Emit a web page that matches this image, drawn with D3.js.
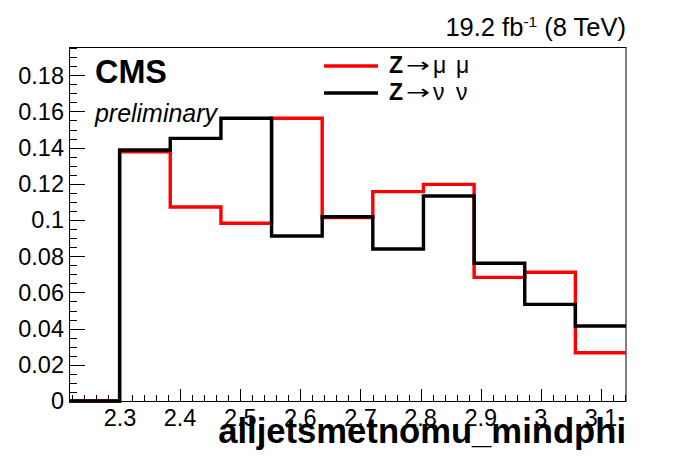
<!DOCTYPE html>
<html>
<head>
<meta charset="utf-8">
<script src="https://cdn.jsdelivr.net/npm/d3@7"></script>
<style>
  html, body { margin: 0; padding: 0; background: #fff; }
  svg { display: block; font-family: "Liberation Sans", Arial, Helvetica, sans-serif; }
</style>
</head>
<body>
<svg id="chart" width="696" height="472"></svg>
<script>
// ---- data ----
const binLowEdges = [2.2152, 2.2994, 2.3836, 2.4679, 2.5521, 2.6363, 2.7205, 2.8047, 2.8890, 2.9732, 3.0574];
const binHighEdge = 3.1416;
const zmumu = [0, 0.1377, 0.1072, 0.0982, 0.1562, 0.1013, 0.1157, 0.1197, 0.0683, 0.0711, 0.0267];
const znunu = [0, 0.1387, 0.1451, 0.1562, 0.0912, 0.1018, 0.0840, 0.1133, 0.0761, 0.0534, 0.0414];
const xTickValues = [2.3, 2.4, 2.5, 2.6, 2.7, 2.8, 2.9, 3.0, 3.1];
const xTickLabels = ["2.3", "2.4", "2.5", "2.6", "2.7", "2.8", "2.9", "3", "3.1"];
const yTickValues = [0, 0.02, 0.04, 0.06, 0.08, 0.10, 0.12, 0.14, 0.16, 0.18];
const yTickLabels = ["0", "0.02", "0.04", "0.06", "0.08", "0.1", "0.12", "0.14", "0.16", "0.18"];
const yMax = 0.1956;
const seriesNames = ["Z", "Z"];
const seriesGreek = ["\u03bc", "\u03bd"];
const seriesColors = ["#ff0000", "#000000"];
const xTitle = "alljetsmetnomu_mindphi";

// ---- layout ----
const L = 69, R = 626, T = 47, B = 401;
const svg = d3.select("#chart");
const x = d3.scaleLinear().domain([binLowEdges[0], binHighEdge]).range([L, R]);
const y = d3.scaleLinear().domain([0, yMax]).range([B, T]);

function fitWidth(sel, size, target) {
  sel.attr("font-size", size);
  const w = sel.node().getComputedTextLength();
  sel.attr("font-size", size * target / w);
}

// frame
svg.append("rect").attr("x", L + 0.5).attr("y", T + 0.5)
  .attr("width", R - L - 0.5).attr("height", B - T)
  .attr("fill", "none").attr("stroke", "#000").attr("stroke-width", 1);

// histograms (step)
function stepPoints(vals) {
  const pts = [];
  vals.forEach((v, i) => {
    const x0 = binLowEdges[i];
    const x1 = i + 1 < binLowEdges.length ? binLowEdges[i + 1] : binHighEdge;
    pts.push([x(x0), y(v)]);
    pts.push([x(x1), y(v)]);
  });
  return pts;
}
const line = d3.line();
[zmumu, znunu].forEach((vals, k) => {
  svg.append("path").attr("d", line(stepPoints(vals)))
    .attr("fill", "none").attr("stroke", seriesColors[k])
    .attr("stroke-width", 3.4).attr("stroke-linejoin", "miter").attr("stroke-linecap", "butt");
});

// y axis ticks
const yMinor = d3.range(0, yMax, 0.005);
yMinor.forEach(v => {
  const major = yTickValues.some(t => Math.abs(t - v) < 1e-6);
  const yy = Math.round(y(v)) + 0.5;
  svg.append("line").attr("x1", L).attr("x2", L + (major ? 16 : 8))
    .attr("y1", yy).attr("y2", yy).attr("stroke", "#000").attr("stroke-width", 1);
});
yTickValues.forEach((v, i) => {
  svg.append("text").attr("x", 64).attr("y", y(v)).attr("dy", "0.36em")
    .attr("text-anchor", "end").attr("font-size", 23.5).text(yTickLabels[i]);
});

// x axis ticks
const xMinor = d3.range(2.22, binHighEdge, 0.02);
xMinor.forEach(v => {
  const major = xTickValues.some(t => Math.abs(t - v) < 1e-6);
  const xx = Math.round(x(v)) + 0.5;
  svg.append("line").attr("x1", xx).attr("x2", xx)
    .attr("y1", B).attr("y2", B - (major ? 12 : 6)).attr("stroke", "#000").attr("stroke-width", 1);
});
xTickValues.forEach((v, i) => {
  svg.append("text").attr("x", x(v)).attr("y", 426)
    .attr("text-anchor", "middle").attr("font-size", 23.5).text(xTickLabels[i]);
});

// axis title (bold, right aligned)
const xt = svg.append("text").attr("x", R).attr("y", 443).attr("text-anchor", "end")
  .attr("font-weight", "bold").text(xTitle);
fitWidth(xt, 34, 408);

// CMS / preliminary
const cms = svg.append("text").attr("x", 95).attr("y", 83).attr("font-weight", "bold").text("CMS");
fitWidth(cms, 30, 72);
const pr = svg.append("text").attr("x", 95).attr("y", 122).attr("font-style", "italic").text("preliminary");
fitWidth(pr, 24, 122);

// lumi label
const lumi = svg.append("text").attr("x", R).attr("y", 36).attr("text-anchor", "end").attr("font-size", 25.5);
lumi.append("tspan").text("19.2 fb");
lumi.append("tspan").attr("font-size", 15.5).attr("dy", -9.5).text("-1");
lumi.append("tspan").attr("dy", 9.5).text(" (8 TeV)");

// legend
const legY = [66, 93];
seriesNames.forEach((nm, k) => {
  svg.append("line").attr("x1", 324).attr("x2", 378).attr("y1", legY[k]).attr("y2", legY[k])
    .attr("stroke", seriesColors[k]).attr("stroke-width", 3.4);
  const by = legY[k] + 7;
  svg.append("text").attr("x", 389).attr("y", by).attr("font-size", 23)
    .attr("font-weight", "bold").text(nm);
  svg.append("text").attr("x", 406).attr("y", by - 1).attr("font-size", 20)
    .attr("font-family", "DejaVu Sans").attr("textLength", 24)
    .attr("lengthAdjust", "spacingAndGlyphs").text("\u2192");
  svg.append("text").attr("x", 433).attr("y", by).attr("font-size", 23).text(seriesGreek[k]);
  svg.append("text").attr("x", 456).attr("y", by).attr("font-size", 23).text(seriesGreek[k]);
});
</script>
</body>
</html>
